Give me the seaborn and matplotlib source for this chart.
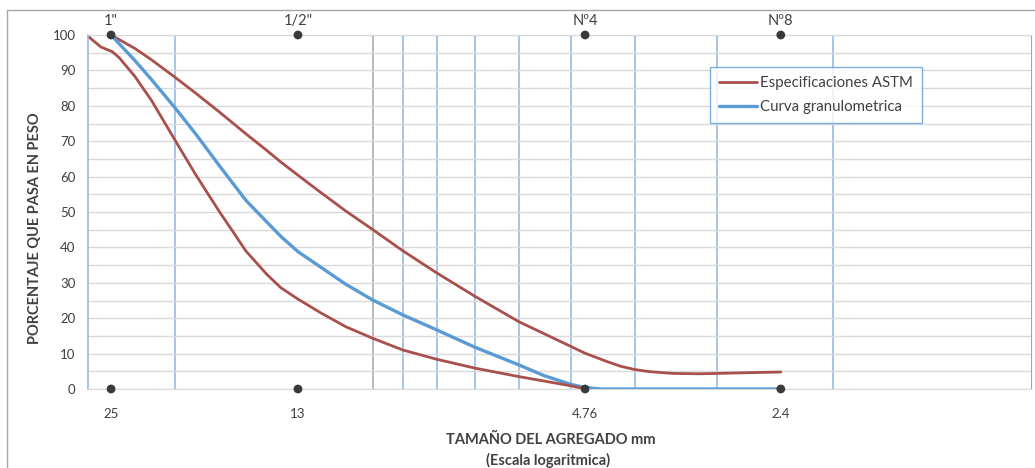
import matplotlib
matplotlib.use("Agg")
import matplotlib.pyplot as plt
from matplotlib.patches import Rectangle
from matplotlib.ticker import NullFormatter
import seaborn as sns


# ==========================================
# DATOS
# ==========================================

tamiz_mm = [25, 13, 4.76, 2.4]
tamiz_nombre = ['1"', '1/2"', 'Nº4', 'Nº8']
tamiz_etiqueta = ['25', '13', '4.76', '2.4']
tamiz_arriba = [100, 100, 100, 100]
tamiz_abajo = [0, 0, 0, 0]

astm_sup_mm = [25, 23, 21.7, 20, 18.6, 17.1, 15.6, 14.5, 13.8, 13, 12, 11,
               10, 9, 8, 7, 6, 5, 4.76, 4.4, 4.2, 4, 3.8, 3.5, 3.2, 3,
               2.7, 2.4]
astm_sup_pct = [100, 96.2, 93.0, 88.1, 83.6, 78.2, 72.1, 67.4, 64.1, 60.4,
                55.5, 50.3, 45.0, 39.0, 32.8, 26.2, 19.0, 12.0, 10.1, 7.7,
                6.4, 5.5, 4.9, 4.4, 4.3, 4.4, 4.6, 4.8]

astm_inf_mm = [27, 25.9, 24.9, 24.3, 23, 21.7, 20, 18.6, 17.1, 16.3, 15.6,
               14.5, 13.8, 13, 12, 11, 10, 9, 8, 7, 6, 5, 4.76]
astm_inf_pct = [99.4, 96.6, 95.3, 93.6, 88.3, 81.5, 70.4, 60.6, 50.0, 44.3,
                39.0, 32.4, 28.6, 25.4, 21.5, 17.6, 14.3, 11.0, 8.4, 5.9,
                3.5, 0.9, 0]

curva_mm = [25, 23, 21.7, 20, 18.6, 17.1, 15.6, 14.5, 13.8, 13, 12, 11,
            10, 9, 8, 7, 6, 5.5, 5, 4.76, 4.5, 4, 3.5, 3, 2.7, 2.4]
curva_pct = [100, 92.8, 87.4, 79.5, 72.1, 63.0, 53.3, 47.2, 43.1, 38.8,
             34.4, 29.6, 25.1, 20.9, 16.7, 11.8, 6.8, 3.8, 1.3, 0.4,
             0, 0, 0, 0, 0, 0]

grid_mm = [20, 10, 9, 8, 7, 6, 5, 4, 3, 2]
grid_gris = [10]

ROJO = '#A9504C'
AZUL = '#5B9BD5'
AZUL_GRID = '#8DB6E2'
GRIS = '#404040'


# ==========================================
# FIGURA
# ==========================================

sns.set_style('white')
plt.rcParams['font.family'] = ['Lato', 'DejaVu Sans']

fig = plt.figure(figsize=(10.35, 4.68), dpi=100)
ax = fig.add_axes([88 / 1035, 1 - 389 / 468, 943 / 1035, 354 / 468])

sns.lineplot(x=astm_sup_mm, y=astm_sup_pct, ax=ax, color=ROJO,
             linewidth=2.0, label='Especificaciones ASTM')
sns.lineplot(x=curva_mm, y=curva_pct, ax=ax, color=AZUL,
             linewidth=2.4, label='Curva granulometrica')
sns.lineplot(x=astm_inf_mm, y=astm_inf_pct, ax=ax, color=ROJO,
             linewidth=2.0, label='_nolegend_')
for ln in ax.lines:
    ln.set_solid_joinstyle('round')
    ln.set_solid_capstyle('round')

for yy in (tamiz_arriba, tamiz_abajo):
    sns.scatterplot(x=tamiz_mm, y=yy, ax=ax, color='#3A3A3A', s=40,
                    edgecolor='none', zorder=5)
    ax.collections[-1].set_clip_on(False)

for mm, nombre in zip(tamiz_mm, tamiz_nombre):
    ax.annotate(nombre, (mm, 100), xytext=(0, 5), textcoords='offset points',
                ha='center', va='bottom', fontsize=10.5, color=GRIS)

# ejes
ax.set_xscale('log')
ax.set_xlim(27.1, 1)
ax.set_ylim(0, 100)

ax.set_xticks(tamiz_mm)
ax.set_xticklabels(tamiz_etiqueta)
ax.set_xticks([], minor=True)
ax.xaxis.set_minor_formatter(NullFormatter())
ax.set_yticks(range(0, 101, 10))
ax.set_yticks(range(0, 101, 5), minor=True)

ax.tick_params(axis='both', which='both', length=0, colors=GRIS,
               labelsize=9.5)
ax.tick_params(axis='x', pad=14)
ax.tick_params(axis='y', pad=9)

ax.grid(False)
ax.grid(which='both', axis='y', color='#D9D9D9', linewidth=1)

# rejilla vertical (escala logaritmica)
for mm in grid_mm:
    color = '#A6A6A6' if mm in grid_gris else AZUL_GRID
    ax.axvline(mm, color=color, linewidth=1.1, zorder=0.5)

ax.spines['left'].set_color(AZUL_GRID)
ax.spines['left'].set_linewidth(1.1)
ax.spines['right'].set_color('#A6A6A6')
ax.spines['bottom'].set_color('#D9D9D9')
ax.spines['top'].set_color('#D9D9D9')
for s in ax.spines.values():
    s.set_visible(True)

ax.set_xlabel('')
ax.set_ylabel('')

fig.text(35 / 1035, 1 - 228 / 468, 'PORCENTAJE QUE PASA EN PESO',
         rotation=90, ha='center', va='center', fontsize=10.5,
         fontweight='bold', color=GRIS)
fig.text(551 / 1035, 1 - 440 / 468, 'TAMAÑO DEL AGREGADO mm',
         ha='center', va='center', fontsize=10.5, fontweight='bold',
         color=GRIS)
fig.text(548 / 1035, 1 - 460 / 468, '(Escala logaritmica)',
         ha='center', va='center', fontsize=10.5, fontweight='bold',
         color=GRIS)

leg = ax.legend(loc='upper left', bbox_to_anchor=(0.660, 0.910),
                borderaxespad=0, frameon=True, fancybox=False,
                fontsize=10.8, handlelength=2.5, handletextpad=0.2,
                labelspacing=0.7, borderpad=0.6)
leg.get_frame().set_edgecolor(AZUL)
leg.get_frame().set_linewidth(1)
for txt in leg.get_texts():
    txt.set_color(GRIS)

fig.patches.append(Rectangle((7 / 1035, -0.05), 1.1, 458 / 468 + 0.05,
                             transform=fig.transFigure, fill=False,
                             edgecolor='#A6A6A6', linewidth=1))

fig.savefig('out.png', dpi=100)
